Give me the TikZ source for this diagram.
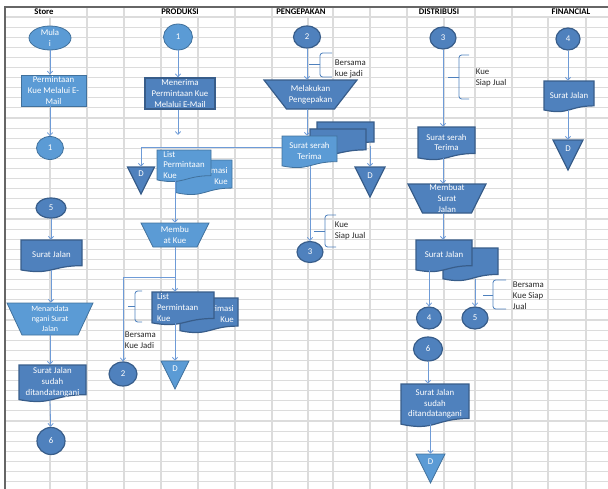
\documentclass[tikz,border=0pt]{standalone}
\usepackage{fontspec}
\setmainfont{Carlito}
\usetikzlibrary{shapes.geometric}
\usetikzlibrary{arrows.meta}
\usetikzlibrary{calc}

\definecolor{biruTua}{RGB}{79,129,189}
\definecolor{tepiTua}{RGB}{56,93,138}
\definecolor{biruMuda}{RGB}{91,155,213}
\definecolor{tepiMuda}{RGB}{65,113,156}
\definecolor{garis}{RGB}{110,155,215}
\definecolor{kisi}{RGB}{220,220,220}

\tikzset{
  uk/.style 2 args={minimum width=#1*0.75pt, minimum height=#2*0.75pt},
  teks/.style={font=\fontsize{6.6}{8}\selectfont, text=white, align=center, inner sep=0pt},
  kecil/.style={font=\fontsize{6}{7.5}\selectfont},
  judul/.style={font=\bfseries\fontsize{6.5}{8}\selectfont, inner sep=1pt},
  ket/.style={font=\fontsize{6.6}{8.2}\selectfont, text=black!85, align=left, anchor=west, inner sep=0.5pt},
  gelap/.style={fill=biruTua, draw=tepiTua, line width=0.9pt},
  terang/.style={fill=biruMuda, draw=tepiMuda, line width=0.6pt},
  bulat/.style={ellipse, teks},
  kotak/.style={rectangle, teks},
  garisKisi/.style={draw=kisi, line width=0.8pt},
  panah/.style={draw=garis, line width=0.6pt, -{Straight Barb[length=2.2pt,width=4pt]}},
  kurung/.style={draw=biruTua, line width=0.6pt, rounded corners=2pt},
}

% dokumen: [opsi teks]{nama}{x}{y}{lebar}{tinggi}{gaya}{teks}
\newcommand{\dokumen}[8][]{%
  \filldraw[#7] ({#3-#5/2},{#4-#6/2}) -- ({#3+#5/2},{#4-#6/2})
    -- ({#3+#5/2},{#4+0.302*#6})
    .. controls (#3,{#4+0.302*#6}) and (#3,{#4+0.6075*#6}) .. ({#3-#5/2},{#4+0.434*#6}) -- cycle;
  \node[teks, uk={#5}{0.93*#6}, #1] (#2) at (#3,{#4-0.035*#6}) {#8};
}
% trapesium: [opsi teks]{nama}{x}{y}{lebar atas}{lebar bawah}{tinggi}{gaya}{teks}
\newcommand{\trapesium}[9][]{%
  \filldraw[#8] ({#3-#5/2},{#4-#7/2}) -- ({#3+#5/2},{#4-#7/2})
    -- ({#3+#6/2},{#4+#7/2}) -- ({#3-#6/2},{#4+#7/2}) -- cycle;
  \node[teks, uk={#6}{#7}, #1] (#2) at (#3,#4) {#9};
}
% segitiga D: {nama}{x}{atas}{lebar}{tinggi}{gaya}
\newcommand{\segitiga}[6]{%
  \filldraw[#6] ({#2-#4/2},#3) -- ({#2+#4/2},#3) -- (#2,{#3+#5}) -- cycle;
  \node[teks, text depth=10pt, uk={#4}{#5}] (#1) at (#2,{#3+#5/2}) {D};
}

\begin{document}
\begin{tikzpicture}[x=0.75pt, y=-0.75pt]
\useasboundingbox (0,0) rectangle (608,489);

% lembar kerja
\foreach \y in {0,...,46}
  \draw[garisKisi] (5,{17+10.1*\y}) -- (608,{17+10.1*\y});
\foreach \x in {50,87,124,161,198,235,272,308,333,370,407,444,475,512,548,586}
  \draw[garisKisi] (\x,17) -- (\x,489);
\foreach \x in {87,124,235,272,333,370,407,475,512}
  \draw[garisKisi] (\x,7) -- (\x,17);
\draw[black!60, line width=0.9pt] (5,489) -- (5,7) -- (608,7);

\node[judul] (h_store) at (44,12) {Store};
\node[judul] (h_produksi) at (180,12) {PRODUKSI};
\node[judul] (h_kemas) at (301,12) {PENGEPAKAN};
\node[judul] (h_distribusi) at (439,12) {DISTRIBUSI};
\node[judul] (h_financial) at (571,12) {FINANCIAL};

% Store
\node[bulat, terang, uk={42}{24}] (e_mula) at (50,38) {Mula\\i};
\node[kotak, terang, uk={65}{31}] (r_minta) at (53.5,90.5) {Permintaan\\Kue Melalui E-\\Mail};
\node[bulat, terang, uk={27}{23}] (e_s1) at (50,148) {1};
\node[bulat, gelap, uk={30}{20}] (e_s5) at (51,208) {5};
\dokumen{d_sj1}{51.5}{256}{61}{32}{gelap}{Surat Jalan}
\trapesium[kecil]{t_tanda}{50}{319}{86}{56}{32}{terang}{Menandata\\ngani Surat\\Jalan}
\dokumen{d_sjs1}{52.5}{383.5}{67}{37}{gelap}{Surat Jalan\\sudah\\ditandatangani}
\node[bulat, gelap, uk={28}{27}] (e_s6) at (51,441) {6};

% Produksi
\node[bulat, terang, uk={29}{26}] (e_p1) at (178,37) {1};
\node[kotak, gelap, line width=1pt, uk={70}{31}] (r_terima) at (180,93.5) {Menerima\\Permintaan Kue\\Melalui E-Mail};
\coordinate (ujung_terima) at (178,135);
\segitiga{t_d1}{141}{167}{27}{27}{gelap}
\dokumen[align=right, xshift=6.8pt]{d_est1}{204}{177.5}{56}{35}{terang}{Estimasi\\Kue}
\dokumen[align=left]{d_list1}{184}{166}{54}{32}{terang}{List\\Permintaan\\Kue}
\trapesium{t_buat}{175}{235}{68}{44}{24}{terang}{Membu\\at Kue}
\coordinate (cabang) at (175,277);
\draw[kurung] (142,291) -- (135,291) -- (135,322) -- (142,322);
\draw[kurung] (135,306.5) -- (128,306.5);
\node[ket] (k_jadi2) at (124,340) {Bersama\\Kue Jadi};
\dokumen[align=right, xshift=7.6pt]{d_est2}{209}{315.5}{58}{35}{gelap}{Estimasi\\Kue}
\dokumen[align=left, xshift=-4pt]{d_list2}{183}{308.5}{62}{33}{gelap}{List\\Permintaan\\Kue}
\segitiga{t_d2}{175}{361}{28}{28}{terang}
\node[bulat, gelap, uk={28}{24}] (e_p2) at (123,374) {2};

% Pengepakan
\node[bulat, gelap, uk={27}{22}] (e_k2) at (307,37) {2};
\draw[kurung] (332,53) -- (320,53) -- (320,77) -- (332,77);
\draw[kurung] (320,64) -- (309,64);
\node[ket] (k_jadi1) at (334,68.5) {Bersama\\kue jadi};
\trapesium{t_kemas}{310.5}{94.5}{93}{48}{29}{gelap}{Melakukan\\Pengepakan}
\dokumen{d_sst1c}{345.5}{134.5}{57}{25}{gelap}{}
\dokumen{d_sst1b}{338}{142}{56}{26}{gelap}{}
\dokumen{d_sst1}{309.5}{152}{55}{32}{terang}{Surat serah\\Terima}
\segitiga{t_d3}{370}{167}{30}{30}{gelap}
\node[bulat, gelap, uk={26}{21}] (e_k3) at (310,252) {3};
\draw[kurung] (336,215) -- (325,215) -- (325,247) -- (336,247);
\draw[kurung] (325,231) -- (314,231);
\node[ket] (k_siap1) at (334,230.5) {Kue\\Siap Jual};

% Distribusi
\node[bulat, gelap, uk={26}{22}] (e_d3) at (443,38) {3};
\draw[kurung] (469,55) -- (459,55) -- (459,99) -- (469,99);
\draw[kurung] (459,77) -- (448,77);
\node[ket] (k_siap2) at (475,78) {Kue\\Siap Jual};
\dokumen{d_sst2}{446.5}{143.5}{57}{33}{gelap}{Surat serah\\Terima}
\trapesium{t_surat}{447}{198.5}{78}{49}{29}{gelap}{Membuat\\Surat\\Jalan}
\dokumen{d_sjb}{470.5}{264.5}{55}{33}{gelap}{}
\dokumen{d_sj2}{444}{256}{56}{32}{gelap}{Surat Jalan}
\node[bulat, gelap, uk={25}{22}] (e_d4) at (429,318) {4};
\node[bulat, gelap, uk={26}{22}] (e_d5) at (475,318) {5};
\draw[kurung] (506,280) -- (493,280) -- (493,309) -- (506,309);
\draw[kurung] (493,295) -- (483,295);
\node[ket] (k_siap3) at (512,295.5) {Bersama\\Kue Siap\\Jual};
\node[bulat, gelap, uk={29}{24}] (e_d6) at (428,349) {6};
\dokumen{d_sjs2}{435}{405.5}{68}{43}{gelap}{Surat Jalan\\sudah\\ditandatangani}
\segitiga{t_d5}{430.5}{454}{29}{29}{terang}

% Financial
\node[bulat, gelap, uk={24}{22}] (e_f4) at (568,39) {4};
\dokumen{d_sjf}{569}{96.5}{50}{31}{gelap}{Surat Jalan}
\segitiga{t_d4}{568}{140}{30}{30}{gelap}

% alur
\draw[panah] (e_mula) -- (e_mula |- r_minta.north);
\draw[panah] (e_mula |- r_minta.south) -- (e_s1);
\draw[panah] (e_s5) -- (e_s5 |- d_sj1.north);
\draw[panah] (e_s5 |- d_sj1.south) -- (e_s5 |- t_tanda.north);
\draw[panah] (t_tanda.south) -- (t_tanda |- d_sjs1.north);
\draw[panah] (t_tanda |- d_sjs1.south) -- (e_s6);

\draw[panah] (e_p1) -- (e_p1 |- r_terima.north);
\draw[panah] (e_p1 |- r_terima.south) -- (ujung_terima);
\draw[panah] ([yshift=2.5pt]d_sst1.west) -| (t_d1.north);
\draw[panah] (t_buat |- d_list1.south) -- (t_buat.north);
\draw[panah] (t_buat.south) -- (t_buat |- d_list2.north);
\draw[panah] (cabang) -| (e_p2);
\draw[panah] (t_d2 |- d_list2.south) -- (t_d2.north);

\draw[panah] (e_k2) -- (e_k2 |- t_kemas.north);
\draw[panah] (e_k2 |- t_kemas.south) -- (e_k2 |- d_sst1.north);
\draw[panah] (e_k3 |- d_sst1.south) -- (e_k3);
\draw[panah] (t_d3 |- d_sst1c.south) -- (t_d3.north);

\draw[panah] (e_d3) -- (e_d3 |- d_sst2.north);
\draw[panah] (e_d3 |- d_sst2.south) -- (e_d3 |- t_surat.north);
\draw[panah] (e_d3 |- t_surat.south) -- (e_d3 |- d_sj2.north);
\draw[panah] (e_d4 |- d_sj2.south) -- (e_d4);
\draw[panah] (e_d5 |- d_sjb.south) -- (e_d5);
\draw[panah] (e_d6) -- (e_d6 |- d_sjs2.north);
\draw[panah] (t_d5 |- d_sjs2.south) -- (t_d5.north);

\draw[panah] (e_f4) -- (e_f4 |- d_sjf.north);
\draw[panah] (e_f4 |- d_sjf.south) -- (t_d4.north);
\end{tikzpicture}
\end{document}
